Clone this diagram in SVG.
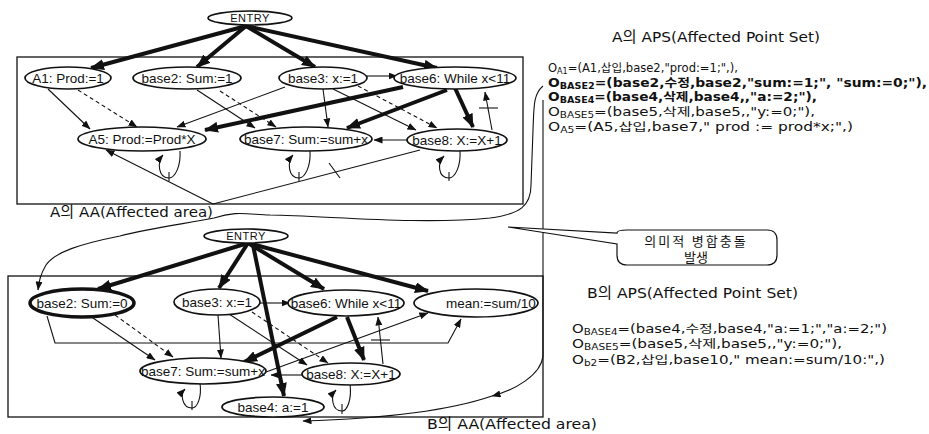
<svg xmlns="http://www.w3.org/2000/svg" width="929" height="434" viewBox="0 0 929 434">
<defs>
<marker id="arr" markerUnits="userSpaceOnUse" markerWidth="9" markerHeight="7" refX="8.5" refY="3.5" orient="auto"><path d="M0,0 L9,3.5 L0,7 z" fill="#111"/></marker>
<marker id="arrT" markerUnits="userSpaceOnUse" markerWidth="14" markerHeight="11" refX="13" refY="5.5" orient="auto"><path d="M0,0 L14,5.5 L0,11 z" fill="#111"/></marker>
</defs>
<style>
text{font-family:"Liberation Sans","Noto Sans CJK KR",sans-serif;fill:#111}
.w{font-family:"DejaVu Sans","Noto Sans CJK KR",sans-serif}
.n ellipse{fill:#fff;stroke:#111;stroke-width:1.7}
.n text{font-size:13.5px;text-anchor:middle}
.e{fill:none;stroke:#111;stroke-width:1.1}
.t{fill:none;stroke:#111;stroke-width:4;marker-end:url(#arrT)}
.s{fill:none;stroke:#111;stroke-width:1.1;marker-end:url(#arr)}
.d{fill:none;stroke:#111;stroke-width:1.1;stroke-dasharray:4 3;marker-end:url(#arr)}
.frame{fill:none;stroke:#111;stroke-width:1.3}
.ps{font-size:11.5px}
.sub{font-size:8px}
</style>
<rect width="929" height="434" fill="#fff"/>
<!-- frames -->
<rect class="frame" x="17" y="57" width="506" height="147"/>
<rect class="frame" x="8" y="276" width="535" height="141"/>
<g id="connectors">
<!-- top graph -->
<line class="t" x1="246" y1="26" x2="91" y2="68"/>
<line class="t" x1="246" y1="26" x2="197" y2="67"/>
<line class="t" x1="246" y1="26" x2="315" y2="67"/>
<line class="t" x1="246" y1="26" x2="437" y2="68"/>
<line class="s" x1="48" y1="89" x2="90" y2="129"/>
<line class="d" x1="78" y1="90" x2="137" y2="127"/>
<line class="s" x1="197" y1="90" x2="255" y2="128"/>
<line class="d" x1="220" y1="91" x2="276" y2="127"/>
<line class="s" x1="285" y1="87" x2="177" y2="127"/>
<line class="s" x1="323" y1="89" x2="328" y2="127"/>
<line class="s" x1="333" y1="89" x2="416" y2="130"/>
<line class="d" x1="358" y1="86" x2="437" y2="128"/>
<line class="s" x1="367" y1="76" x2="397" y2="76"/>
<line class="t" x1="403" y1="87" x2="205" y2="130"/>
<line class="t" x1="447" y1="90" x2="347" y2="128"/>
<line class="t" x1="455" y1="88" x2="473" y2="127"/>
<line class="s" x1="492" y1="130" x2="485" y2="92"/>
<line class="e" x1="479" y1="108" x2="498" y2="108"/>
<line class="s" x1="407" y1="140" x2="374" y2="140"/>
<path class="s" d="M180,151 C181,166 175,178 169,178 C158,178 157,162 163,155"/>
<line class="e" x1="169" y1="172" x2="169" y2="181"/>
<path class="s" d="M310,151 C311,166 305,178 299,178 C288,178 287,162 293,155"/>
<line class="e" x1="299" y1="172" x2="299" y2="181"/>
<path class="s" d="M460,151 C461,166 455,178 449,178 C438,178 437,163 444,156"/>
<line class="e" x1="449" y1="172" x2="449" y2="181"/>
<line class="s" x1="213" y1="204" x2="106" y2="150"/>
<line class="e" x1="213" y1="204" x2="420" y2="150"/>
<line class="e" x1="329" y1="163" x2="340" y2="178"/>
<!-- bottom graph -->
<line class="t" x1="248" y1="243" x2="98" y2="289"/>
<line class="t" x1="248" y1="243" x2="219" y2="288"/>
<line class="t" x1="248" y1="243" x2="324" y2="289"/>
<line class="t" x1="248" y1="243" x2="428" y2="291"/>
<line class="t" x1="253" y1="245" x2="284" y2="396"/>
<line class="s" x1="259" y1="303" x2="290" y2="303"/>
<line class="s" x1="93" y1="318" x2="155" y2="360"/>
<line class="d" x1="115" y1="315" x2="173" y2="357"/>
<line class="s" x1="218" y1="315" x2="221" y2="358"/>
<line class="s" x1="229" y1="314" x2="307" y2="365"/>
<line class="d" x1="252" y1="312" x2="328" y2="363"/>
<line class="t" x1="337" y1="317" x2="244" y2="362"/>
<line class="t" x1="347" y1="317" x2="364" y2="360"/>
<line class="s" x1="383" y1="364" x2="378" y2="317"/>
<line class="e" x1="371" y1="340" x2="390" y2="340"/>
<line class="s" x1="302" y1="375" x2="271" y2="375"/>
<line class="s" x1="266" y1="372" x2="428" y2="313"/>
<polyline class="s" points="47,316 55,343 448,343 461,319"/>
<path class="s" d="M200,383 C202,398 197,408 192,408 C182,408 180,394 185,389"/>
<line class="e" x1="192" y1="401" x2="192" y2="410"/>
<path class="s" d="M350,384 C352,400 347,411 342,411 C332,411 330,396 336,390"/>
<line class="e" x1="342" y1="404" x2="342" y2="414"/>
<!-- links from APS -->
<path class="s" d="M543,100 L543,356 C541,375 515,390 492,396"/>
<path class="s" d="M492,396 C460,407 400,418 303,421"/>
<path class="s" d="M543,86 C533,94 534,108 533,130 L531,185 C531,206 520,214 490,218 C420,225 330,216 270,215 C245,214 235,211 214,218 C190,223 150,228 120,236 C80,244 55,252 46,265 C40,275 39,282 38,290"/>
<path d="M508,227 L617,233 Q617,230 627,230 L767,230 Q777,230 777,240 L777,255 Q777,265 767,265 L627,265 Q617,265 617,255 L617,244 Z" fill="#fff" stroke="#111" stroke-width="1.2"/>
</g>
<!-- top nodes -->
<g id="entryA" class="n"><ellipse cx="250" cy="18" rx="42" ry="7"/><text x="250" y="22" style="font-size:11px" letter-spacing="0.5">ENTRY</text></g>
<g id="A1" class="n"><ellipse cx="68" cy="78" rx="43" ry="11"/><text x="68" y="83">A1: Prod:=1</text></g>
<g id="base2A" class="n"><ellipse cx="187" cy="78" rx="54" ry="11"/><text x="187" y="83">base2: Sum:=1</text></g>
<g id="base3A" class="n"><ellipse cx="323" cy="78" rx="44" ry="11"/><text x="323" y="83">base3: x:=1</text></g>
<g id="base6A" class="n"><ellipse cx="455" cy="78" rx="61" ry="11"/><text x="455" y="83">base6: While x&lt;11</text></g>
<g id="A5" class="n"><ellipse cx="142" cy="139" rx="64" ry="12"/><text x="142" y="144">A5: Prod:=Prod*X</text></g>
<g id="base7A" class="n"><ellipse cx="306" cy="139" rx="66" ry="12"/><text x="306" y="144">base7: Sum:=sum+x</text></g>
<g id="base8A" class="n"><ellipse cx="457" cy="140" rx="50" ry="11"/><text x="457" y="145">base8: X:=X+1</text></g>
<!-- bottom nodes -->
<g id="entryB" class="n"><ellipse cx="246" cy="236" rx="42" ry="7"/><text x="246" y="240" style="font-size:11px" letter-spacing="0.5">ENTRY</text></g>
<g id="base2B" class="n"><ellipse cx="82" cy="303" rx="52" ry="14" style="stroke-width:3.5"/><text x="82" y="308">base2: Sum:=0</text></g>
<g id="base3B" class="n"><ellipse cx="217" cy="302" rx="43" ry="13"/><text x="217" y="307">base3: x:=1</text></g>
<g id="base6B" class="n"><ellipse cx="346" cy="303" rx="58" ry="13"/><text x="346" y="308">base6: While x&lt;11</text></g>
<g id="meanB" class="n"><ellipse cx="476" cy="303" rx="62" ry="14"/><text x="446" y="308" style="text-anchor:start">mean:=sum/10</text></g>
<g id="base7B" class="n"><ellipse cx="203" cy="371" rx="63" ry="13"/><text x="203" y="376">base7: Sum:=sum+x</text></g>
<g id="base8B" class="n"><ellipse cx="351" cy="374" rx="49" ry="11"/><text x="351" y="379">base8: X:=X+1</text></g>
<g id="base4B" class="n"><ellipse cx="273" cy="407" rx="51" ry="10"/><text x="273" y="412">base4: a:=1</text></g>
<!-- labels -->
<text class="w" x="50" y="217" font-size="14.5" textLength="163" lengthAdjust="spacingAndGlyphs">A의 AA(Affected area)</text>
<text class="w" x="427" y="429" font-size="14.5" textLength="170" lengthAdjust="spacingAndGlyphs">B의 AA(Affected area)</text>
<text x="696" y="246" font-size="13" text-anchor="middle" letter-spacing="2">의미적 병합충돌</text>
<text x="696" y="262" font-size="13" text-anchor="middle">발생</text>
<text class="w" x="612" y="42" font-size="14.5" textLength="208" lengthAdjust="spacingAndGlyphs">A의 APS(Affected Point Set)</text>
<text class="w ps" x="548" y="72" textLength="190" lengthAdjust="spacingAndGlyphs">O<tspan class="sub" dy="2">A1</tspan><tspan dy="-2">=(A1,삽입,base2,"prod:=1;",),</tspan></text>
<text class="w ps" x="548" y="87" font-weight="bold" textLength="379" lengthAdjust="spacingAndGlyphs">O<tspan class="sub" dy="2">BASE2</tspan><tspan dy="-2">=(base2,수정,base2,"sum:=1;", "sum:=0;"),</tspan></text>
<text class="w ps" x="548" y="101" font-weight="bold" textLength="269" lengthAdjust="spacingAndGlyphs">O<tspan class="sub" dy="2">BASE4</tspan><tspan dy="-2">=(base4,삭제,base4,,"a:=2;"),</tspan></text>
<text class="w ps" x="548" y="116" textLength="267" lengthAdjust="spacingAndGlyphs">O<tspan class="sub" dy="2">BASE5</tspan><tspan dy="-2">=(base5,삭제,base5,,"y:=0;"),</tspan></text>
<text class="w ps" x="548" y="131" textLength="305" lengthAdjust="spacingAndGlyphs">O<tspan class="sub" dy="2">A5</tspan><tspan dy="-2">=(A5,삽입,base7," prod := prod*x;",)</tspan></text>
<text class="w" x="587" y="298" font-size="14.5" textLength="211" lengthAdjust="spacingAndGlyphs">B의 APS(Affected Point Set)</text>
<text class="w ps" x="572" y="333" textLength="315" lengthAdjust="spacingAndGlyphs">O<tspan class="sub" dy="2">BASE4</tspan><tspan dy="-2">=(base4,수정,base4,"a:=1;","a:=2;")</tspan></text>
<text class="w ps" x="572" y="348" textLength="270" lengthAdjust="spacingAndGlyphs">O<tspan class="sub" dy="2">BASE5</tspan><tspan dy="-2">=(base5,삭제,base5,,"y:=0;"),</tspan></text>
<text class="w ps" x="572" y="364" textLength="313" lengthAdjust="spacingAndGlyphs">O<tspan class="sub" dy="2">b2</tspan><tspan dy="-2">=(B2,삽입,base10," mean:=sum/10:",)</tspan></text>
</svg>
